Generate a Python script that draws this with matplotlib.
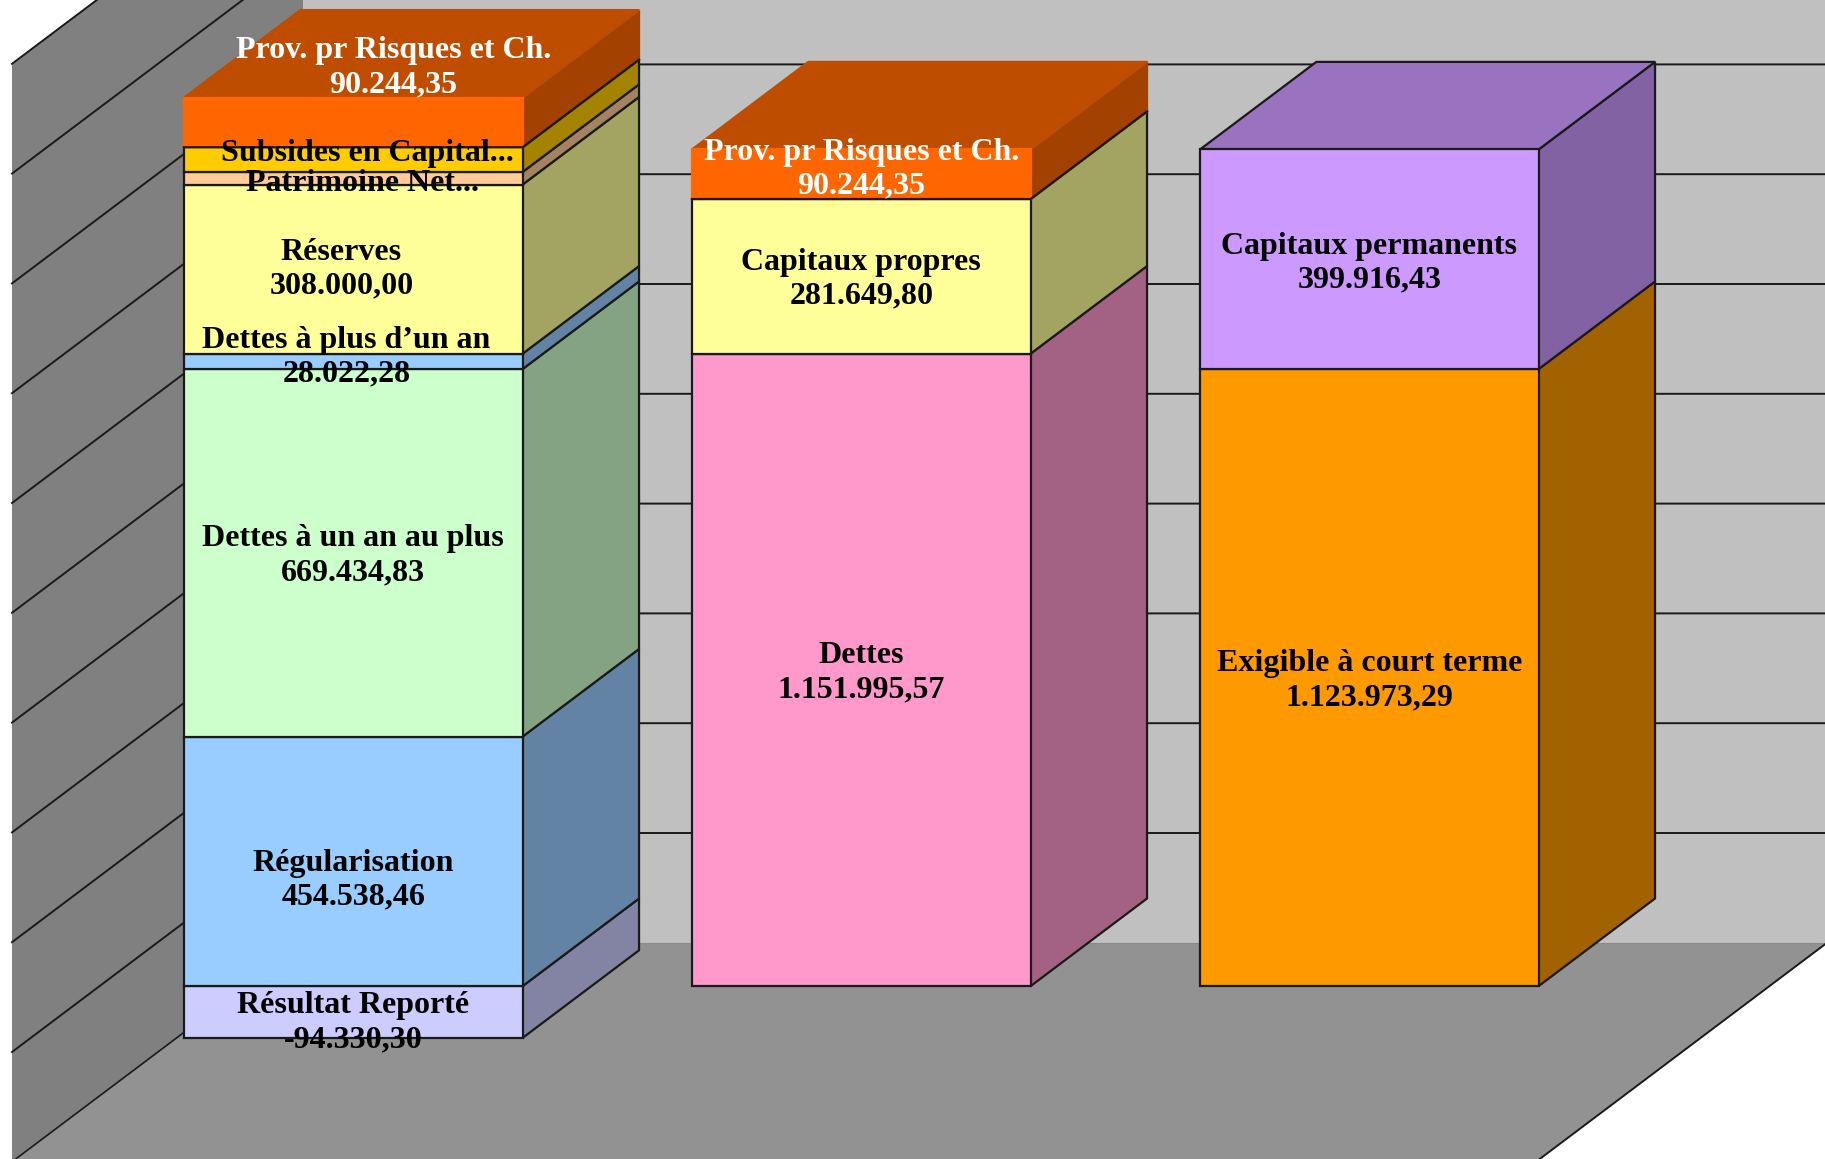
import matplotlib
matplotlib.use("Agg")
import matplotlib.pyplot as plt
from matplotlib.colors import to_rgb
from matplotlib.patches import Polygon

# --- data -------------------------------------------------------------
bar0_names = ["Résultat Reporté", "Régularisation", "Dettes à un an au plus",
              "Dettes à plus d’un an", "Réserves", "Patrimoine Net...",
              "Subsides en Capital...", "Prov. pr Risques et Ch."]
bar0_values = [-94330.30, 454538.46, 669434.83, 28022.28, 308000.00,
               22980.10, 45000.00, 90244.35]
bar0_texts = ["-94.330,30", "454.538,46", "669.434,83", "28.022,28",
              "308.000,00", None, None, "90.244,35"]
bar0_colors = ["#CCCCFF", "#99CCFF", "#CCFFCC", "#99CCFF", "#FFFF99",
               "#FFCC99", "#FFCC00", "#FF6600"]

bar1_names = ["Dettes", "Capitaux propres", "Prov. pr Risques et Ch."]
bar1_values = [1151995.57, 281649.80, 90244.35]
bar1_texts = ["1.151.995,57", "281.649,80", "90.244,35"]
bar1_colors = ["#FF99CC", "#FFFF99", "#FF6600"]

bar2_names = ["Exigible à court terme", "Capitaux permanents"]
bar2_values = [1123973.29, 399916.43]
bar2_texts = ["1.123.973,29", "399.916,43"]
bar2_colors = ["#FF9900", "#CC99FF"]

axis_ticks = [-200000 + 200000 * i for i in range(11)]

# --- layout -----------------------------------------------------------
W, H = 1825, 1159
PX_PER_CAT = 508.0
PX_PER_UNIT = 0.000549
DEPTH_PX_X, DEPTH_PX_Y = 291.0, 219.0
ORIGIN_X, ORIGIN_Y = 12.0, 1052.0
DX = DEPTH_PX_X / PX_PER_CAT
DY = DEPTH_PX_Y / PX_PER_UNIT
BAR_W = 2 / 3
BAR_LIFT = 0.2 / PX_PER_UNIT
Z0, Z1 = 0.3, 0.7
YMIN, YMAX = -200000, 1800000
EDGE = "#1a1a1a"
LW = 1.6
SERIF = "Liberation Serif"
FS = 23
LINE = 1.23

# label offsets in pixels relative to the segment middle (right, down)
off0 = [(0, 11), (0, 19), (0, 3), (-7, -4), (-12, 0), (9, 5), (14, -6), (40, -55)]
off1 = [(0, 3), (0, 3), (0, -5)]
off2 = [(0, 3), (0, 4)]

fig = plt.figure(figsize=(W / 100, H / 100), dpi=100, facecolor="white")
ax = fig.add_axes([0, 0, 1, 1])
ax.set_xlim(-ORIGIN_X / PX_PER_CAT, (W - ORIGIN_X) / PX_PER_CAT)
ax.set_ylim((ORIGIN_Y - H) / PX_PER_UNIT, ORIGIN_Y / PX_PER_UNIT)
ax.axis("off")


def P(x, v, z=0.0):
    return (x + z * DX, v + z * DY)


def B(x, v, z):
    return (x + z * DX, v + z * DY + BAR_LIFT)


def shade(c, f):
    return tuple(ch * f for ch in to_rgb(c))


def poly(pts, fc, ec="none", lw=0, z=1):
    ax.add_patch(Polygon(pts, closed=True, facecolor=fc, edgecolor=ec,
                         linewidth=lw, zorder=z, joinstyle="miter"))


NC = 3
# floor, back wall, left wall
poly([P(0, YMIN), P(NC, YMIN), P(NC, YMIN, 1), P(0, YMIN, 1)], "#929292", z=1)
poly([P(0, YMIN, 1), P(NC, YMIN, 1), P(NC, YMAX, 1), P(0, YMAX, 1)], "#C0C0C0", z=1)
poly([P(0, YMIN), P(0, YMIN, 1), P(0, YMAX, 1), P(0, YMAX)], "#808080", z=1)
for t in axis_ticks:
    pts = [P(0, t), P(0, t, 1), P(NC, t, 1)]
    if t == YMIN:
        ax.plot([pts[0][0], pts[1][0]], [pts[0][1], pts[1][1]], color=EDGE, lw=1.2, zorder=2)
        ax.plot([pts[1][0], pts[2][0]], [pts[1][1], pts[2][1]], color="#8a8a8a", lw=0.8, zorder=2)
    else:
        ax.plot(*zip(*pts), color=EDGE, lw=1.4, zorder=2)
ax.plot(*zip(P(NC, YMIN), P(NC, YMIN, 1)), color=EDGE, lw=1.4, zorder=2)
ax.plot(*zip(P(NC, YMIN, 1), P(NC, YMAX, 1)), color="#9a9a9a", lw=0.8, zorder=2)


def draw_bar(i, names, values, texts, colors, offs):
    x0 = i + (1 - BAR_W) / 2
    x1 = x0 + BAR_W
    neg = [k for k, v in enumerate(values) if v < 0]
    base = sum(values[k] for k in neg)
    order = neg + [k for k in range(len(values)) if k not in neg]
    z = 5
    top_idx = order[-1]
    for k in order:
        lo = base
        hi = base + abs(values[k])
        base = hi
        c = colors[k]
        soft = c == "#FF6600"
        ec_f = shade(c, 1.0) if soft else EDGE
        ec_s = shade(c, 0.64) if soft else EDGE
        ec_t = shade(c, 0.75) if soft else EDGE
        # side
        poly([B(x1, lo, Z0), B(x1, lo, Z1), B(x1, hi, Z1), B(x1, hi, Z0)],
             shade(c, 0.64), ec_s, LW, z)
        # front
        poly([B(x0, lo, Z0), B(x1, lo, Z0), B(x1, hi, Z0), B(x0, hi, Z0)],
             c, ec_f, LW, z + 0.1)
        if soft:
            # the lower border of this segment stays dark
            ax.plot(*zip(B(x0, lo, Z0), B(x1, lo, Z0), B(x1, lo, Z1)),
                    color=EDGE, lw=LW, zorder=z + 0.2)
        if k == top_idx:
            poly([B(x0, hi, Z0), B(x1, hi, Z0), B(x1, hi, Z1), B(x0, hi, Z1)],
                 shade(c, 0.75), ec_t, LW, z)
        z += 1
        txt = names[k] if texts[k] is None else names[k] + "\n" + texts[k]
        mx, my = B((x0 + x1) / 2, (lo + hi) / 2, Z0)
        labels.append((mx, my, txt, offs[k],
                       "white" if soft else "black"))


labels = []
draw_bar(0, bar0_names, bar0_values, bar0_texts, bar0_colors, off0)
draw_bar(1, bar1_names, bar1_values, bar1_texts, bar1_colors, off1)
draw_bar(2, bar2_names, bar2_values, bar2_texts, bar2_colors, off2)
for mx, my, txt, (ox, oy), col in labels:
    ax.annotate(txt, xy=(mx, my), xytext=(ox, -oy), textcoords="offset pixels",
                ha="center", va="center", multialignment="center", color=col,
                family=SERIF, weight="bold", fontsize=FS, linespacing=LINE,
                zorder=50, annotation_clip=False)

fig.savefig("out.png", dpi=100, facecolor="white")
